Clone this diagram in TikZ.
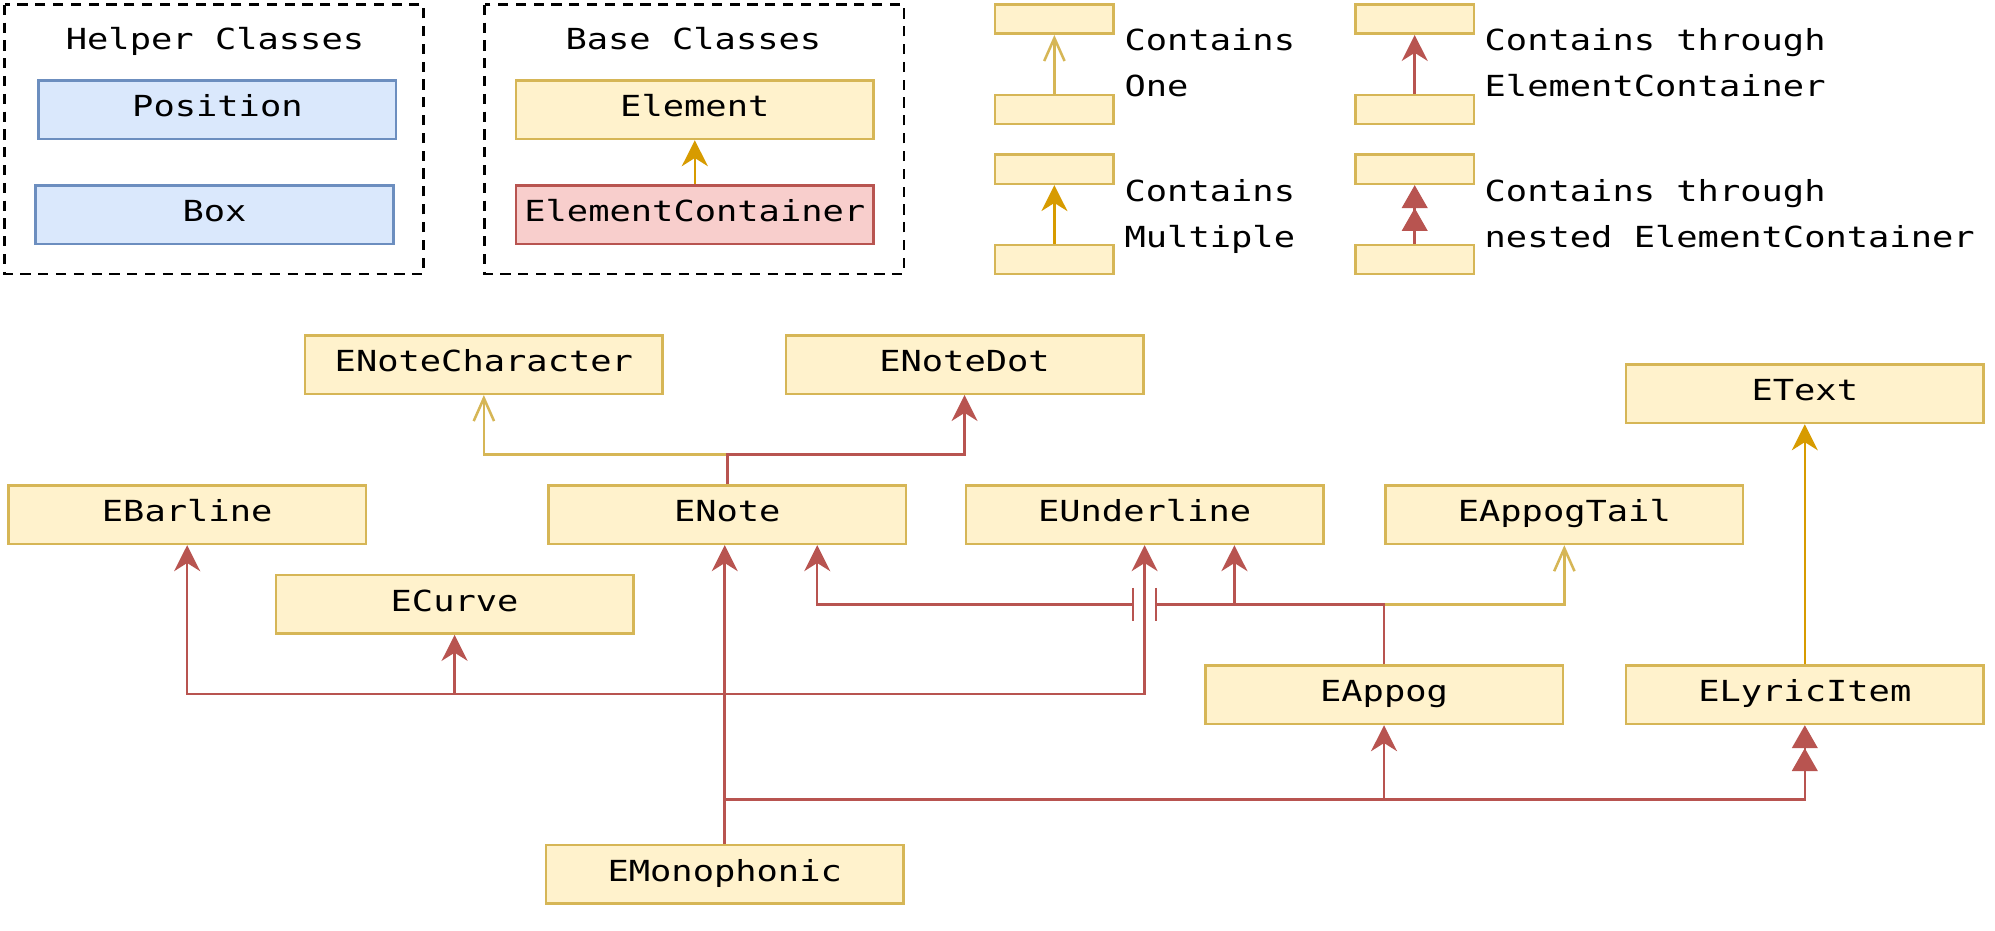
\documentclass[tikz,border=0pt]{standalone}
\usepackage{fontspec}
\newfontfamily\monof[FakeStretch=1.22]{DejaVu Sans Mono}
\usetikzlibrary{arrows.meta,calc}
\definecolor{yfill}{HTML}{FFF2CC}
\definecolor{ydraw}{HTML}{D6B656}
\definecolor{bfill}{HTML}{DAE8FC}
\definecolor{bdraw}{HTML}{6C8EBF}
\definecolor{rfill}{HTML}{F8CECC}
\definecolor{rdraw}{HTML}{B85450}
\definecolor{oarrow}{HTML}{D79B00}
\newcommand\diagfont{\monof\fontsize{11.4}{18}\selectfont}
\tikzset{
  cls/.style={draw=ydraw, fill=yfill, line width=1pt, minimum width=140.5pt,
    minimum height=23pt, inner sep=0pt, text height=8.3pt, text depth=2.7pt, font=\diagfont},
  helper/.style={cls, draw=bdraw, fill=bfill},
  contbox/.style={cls, draw=rdraw, fill=rfill},
  legbox/.style={draw=ydraw, fill=yfill, line width=1pt, minimum width=46.5pt,
    minimum height=11.5pt, inner sep=0pt},
  grp/.style={draw=black, line width=1pt, dash pattern=on 4pt off 3pt},
  legtext/.style={anchor=west, align=left, inner sep=0pt, font=\diagfont},
  title/.style={inner sep=0pt, font=\diagfont},
  redline/.style={draw=rdraw, line width=1pt},
  one/.style={draw=ydraw, line width=1pt, -{Straight Barb[length=9pt,width=8pt]}},
  many/.style={draw=oarrow, line width=1pt, -{Stealth[length=10.2pt,width=10.2pt,inset=3.2pt]}},
  thru/.style={draw=rdraw, line width=1pt, -{Stealth[length=10.2pt,width=10.2pt,inset=3.2pt]}},
  nested/.style={draw=rdraw, line width=1pt, -{Triangle[length=9pt,width=10pt]Triangle[length=9pt,width=10pt]}},
}
\begin{document}
\begin{tikzpicture}[x=0.5pt,y=-0.5pt]
\useasboundingbox (0,0) rectangle (1568,731);
\fill[white] (0,0) rectangle (1568,731);

% groups
\draw[grp] (3.7,3.7) rectangle (333,215.4);
\draw[grp] (381,3.7) rectangle (710.5,215.4);
\node[title] (tHelper) at (169,31.4) {\strut Helper Classes};
\node[title] (tBase) at (545,31.4) {\strut Base Classes};
\node[helper] (Position) at (170.9,86.2) {Position};
\node[helper] (Box) at (168.6,168.7) {Box};
\node[cls] (Element) at (546.1,86.2) {Element};
\node[contbox] (EC) at (546.1,168.7) {ElementContainer};
\draw[many] (EC.north) -- (Element.south);

% legend
\node[legbox] (l1t) at (828.7,15) {};
\node[legbox] (l1b) at (828.7,86.1) {};
\node[legbox] (l2t) at (828.7,133) {};
\node[legbox] (l2b) at (828.7,204) {};
\node[legbox] (l3t) at (1111.9,15) {};
\node[legbox] (l3b) at (1111.9,86.1) {};
\node[legbox] (l4t) at (1111.9,133) {};
\node[legbox] (l4b) at (1111.9,204) {};
\draw[one] (l1b.north) -- (l1t.south);
\draw[many] (l2b.north) -- (l2t.south);
\draw[thru] (l3b.north) -- (l3t.south);
\draw[nested] (l4b.north) -- (l4t.south);
\node[legtext] (txOne) at (883.5,50.6) {\strut Contains\\ One\strut};
\node[legtext] (txMany) at (883.5,169.4) {\strut Contains\\ Multiple\strut};
\node[legtext] (txThru) at (1166.5,50.6) {\strut Contains through\\ ElementContainer\strut};
\node[legtext] (txNest) at (1166.5,169.4) {\strut Contains through\\ nested ElementContainer\strut};

% classes
\node[cls] (ENoteCharacter) at (380.3,286.5) {ENoteCharacter};
\node[cls] (ENoteDot) at (758.1,286.5) {ENoteDot};
\node[cls] (EText) at (1418.5,309.5) {EText};
\node[cls] (EBarline) at (147.1,404.5) {EBarline};
\node[cls] (ENote) at (571.6,404.5) {ENote};
\node[cls] (EUnderline) at (899.6,404.5) {EUnderline};
\node[cls] (EAppogTail) at (1229.5,404.5) {EAppogTail};
\node[cls] (ECurve) at (357.3,475) {ECurve};
\node[cls] (EAppog) at (1087.8,546) {EAppog};
\node[cls] (ELyricItem) at (1418.5,546) {ELyricItem};
\node[cls] (EMonophonic) at (569.6,687.2) {EMonophonic};

% junction coordinates
\coordinate (jn) at (571.6,357.2);
\coordinate (jR) at (908.5,475);
\coordinate (jL) at (890.5,475);
\coordinate (busA) at (569.6,545.6);
\coordinate (busB) at (569.6,628.4);
\coordinate (nA) at ($(ENote.south)+(70.7,0)$);
\coordinate (uA) at ($(EUnderline.south)+(70.6,0)$);

% ENote -> ENoteCharacter / ENoteDot
\draw[one] (ENote.north) |- (ENoteCharacter.south |- jn) -- (ENoteCharacter.south);
\draw[thru] (ENote.north) |- (ENoteDot.south |- jn) -- (ENoteDot.south);

% ELyricItem -> EText
\draw[many] (ELyricItem.north) -- (EText.south);

% EAppog
\draw[one] (EAppog.north) |- (EAppogTail.south |- jR) -- (EAppogTail.south);
\draw[thru] (EAppog.north) |- (uA |- jR) -- (uA);
\draw[redline] (EAppog.north) |- (jR);
\draw[redline] ($(jR)+(0,-13)$) -- ($(jR)+(0,13)$);
\draw[redline] ($(jL)+(0,-13)$) -- ($(jL)+(0,13)$);
\draw[thru] (jL) -| (nA);

% EMonophonic
\draw[thru] (EMonophonic.north) -- (EMonophonic.north |- ENote.south);
\draw[thru] (EMonophonic.north) -- (busA) -| (EBarline.south);
\draw[thru] (EMonophonic.north) |- (ECurve.south |- busA) -- (ECurve.south);
\draw[thru] (EMonophonic.north) |- (EUnderline.south |- busA) -- (EUnderline.south);
\draw[thru] (EMonophonic.north) |- (EAppog.south |- busB) -- (EAppog.south);
\draw[nested] (EMonophonic.north) |- (ELyricItem.south |- busB) -- (ELyricItem.south);
\end{tikzpicture}
\end{document}
